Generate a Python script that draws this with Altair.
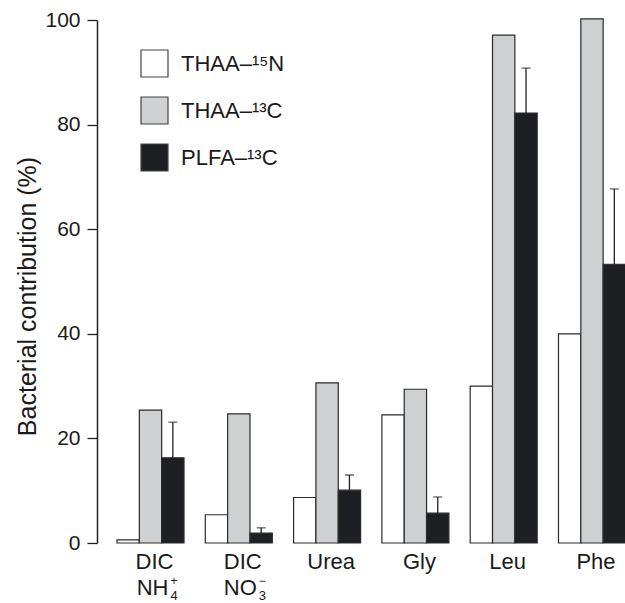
import altair as alt
import pandas as pd

groups = ["DIC NH4", "DIC NO3", "Urea", "Gly", "Leu", "Phe"]
group_labels = ["DIC", "DIC", "Urea", "Gly", "Leu", "Phe"]
series = ["THAA–¹⁵N", "THAA–¹³C", "PLFA–¹³C"]
thaa_15n = [0.6, 5.4, 8.7, 24.5, 30.0, 40.0]
thaa_13c = [25.4, 24.7, 30.6, 29.4, 97.1, 100.2]
plfa_13c = [16.3, 1.9, 10.1, 5.7, 82.2, 53.3]
plfa_err = [6.8, 1.0, 2.9, 3.1, 8.6, 14.4]
colors = ["#ffffff", "#cfd0d2", "#1e1f22"]

# second-line labels for DIC groups
sub_groups = ["DIC NH4", "DIC NO3"]
sub_main = ["NH", "NO"]
sub_sup = ["+", "−"]
sub_sub = ["4", "3"]

rows = []
for vals, s in zip([thaa_15n, thaa_13c, plfa_13c], series):
    for g, v in zip(groups, vals):
        rows.append({"group": g, "series": s, "value": v})
df = pd.DataFrame(rows)
err_df = pd.DataFrame({
    "group": groups,
    "series": [series[2]] * len(groups),
    "value": plfa_13c,
    "upper": [v + e for v, e in zip(plfa_13c, plfa_err)],
})
lab_df = pd.DataFrame({"group": sub_groups, "main": sub_main, "sup": sub_sup, "sub": sub_sub})

FONT = "Liberation Sans"
label_expr = " : ".join(
    f"datum.value == '{g}' ? '{l}'" for g, l in zip(groups, group_labels)
) + " : datum.value"

xscale = alt.Scale(domain=groups, range=[20, 528.5], paddingInner=0.241, paddingOuter=0)
xoff = alt.XOffset("series:N", scale=alt.Scale(domain=series, paddingInner=0, paddingOuter=0))
x_enc = alt.X(
    "group:N", scale=xscale, sort=groups, title=None,
    axis=alt.Axis(domain=False, ticks=False, tickSize=0, labelAngle=0, labelFont=FONT,
                  labelFontSize=22, labelColor="#1a1a1a", labelBaseline="alphabetic",
                  labelPadding=25, labelOffset=4, labelExpr=label_expr),
)
yscale = alt.Scale(domain=[0, 100], nice=False)

bars = alt.Chart(df).mark_bar(stroke="#2b2b2b", strokeWidth=1.2).encode(
    x=x_enc,
    xOffset=xoff,
    y=alt.Y("value:Q", scale=yscale, title="Bacterial contribution (%)",
            axis=alt.Axis(values=[0, 20, 40, 60, 80, 100], grid=False, domainColor="#222",
                          domainWidth=1.5, tickColor="#222", tickWidth=1.3, tickSize=10,
                          labelPadding=7, labelFont=FONT, labelFontSize=21, labelColor="#1a1a1a",
                          titleFont=FONT, titleFontSize=25, titleFontWeight="normal",
                          titleColor="#1a1a1a", titleAngle=270, titleAlign="center",
                          titleBaseline="alphabetic", titleX=-62, titleY=276)),
    color=alt.Color("series:N", scale=alt.Scale(domain=series, range=colors),
                    legend=alt.Legend(title=None, orient="none", legendX=43, legendY=29,
                                      symbolType="square", symbolSize=729,
                                      symbolStrokeColor="#444", symbolStrokeWidth=1.2,
                                      labelFont=FONT, labelFontSize=22, labelColor="#1a1a1a",
                                      labelOffset=12, rowPadding=14, padding=0,
                                      symbolOpacity=1)),
)

rule = alt.Chart(err_df).mark_rule(color="#222", strokeWidth=1.3).encode(
    x=alt.X("group:N", scale=xscale, sort=groups),
    xOffset=xoff,
    y=alt.Y("value:Q", scale=yscale),
    y2="upper:Q",
)
cap = alt.Chart(err_df).mark_tick(color="#222", thickness=1.3, size=9, orient="horizontal").encode(
    x=alt.X("group:N", scale=xscale, sort=groups),
    xOffset=xoff,
    y=alt.Y("upper:Q", scale=yscale),
)

main_txt = alt.Chart(lab_df).mark_text(font=FONT, fontSize=22, color="#1a1a1a", align="right",
                                       baseline="alphabetic", dx=18).encode(
    x=alt.X("group:N", scale=xscale, sort=groups), y=alt.value(575), text="main:N")
sup_txt = alt.Chart(lab_df).mark_text(font=FONT, fontSize=12, color="#1a1a1a", align="left",
                                      baseline="alphabetic", dx=20).encode(
    x=alt.X("group:N", scale=xscale, sort=groups), y=alt.value(565), text="sup:N")
sub_txt = alt.Chart(lab_df).mark_text(font=FONT, fontSize=13, color="#1a1a1a", align="left",
                                      baseline="alphabetic", dx=20).encode(
    x=alt.X("group:N", scale=xscale, sort=groups), y=alt.value(580), text="sub:N")

chart = alt.layer(bars, rule, cap, main_txt, sup_txt, sub_txt).properties(
    width=528, height=523,
    padding={"left": 97, "top": 20, "right": 0, "bottom": 60},
    autosize=alt.AutoSizeParams(type="none"),
    background="white",
).configure_view(stroke=None)

chart.save("out.html", embed_options={"renderer": "svg", "actions": False})
